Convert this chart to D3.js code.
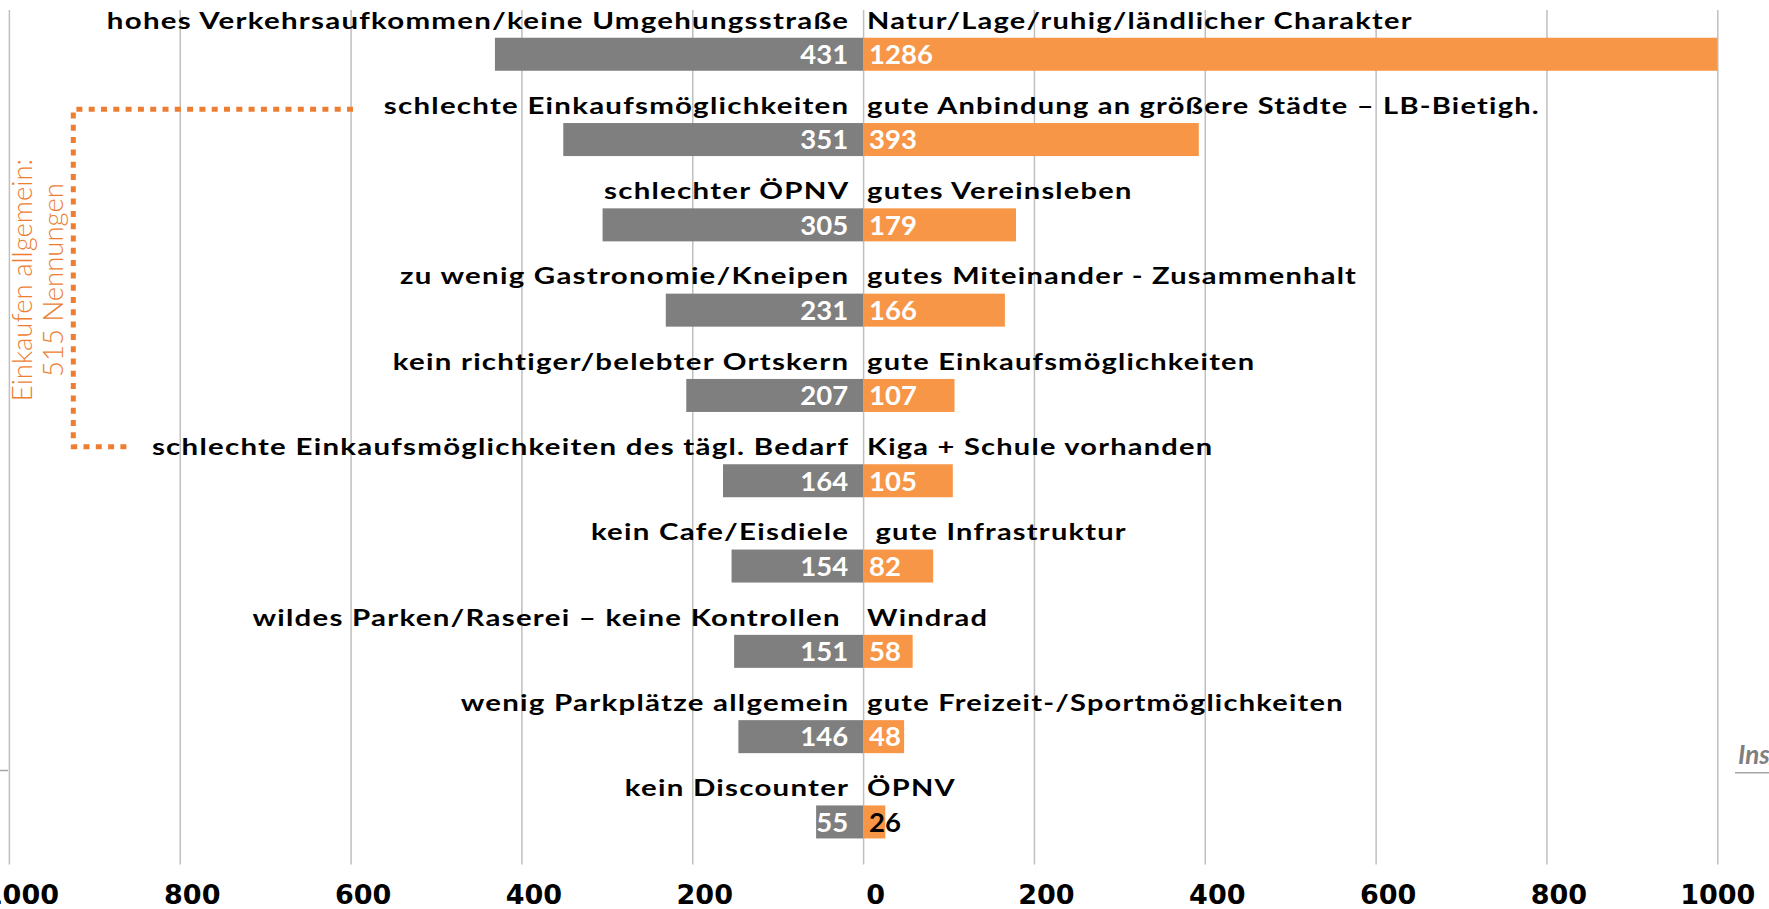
<!DOCTYPE html>
<html><head><meta charset="utf-8">
<script src="https://cdn.jsdelivr.net/npm/d3@7"></script>
<style>
body{margin:0;background:#fff;overflow:hidden}
svg{display:block}
text{white-space:pre}
</style></head><body>
<svg id="c" width="1769" height="909"></svg>
<script>
// ---- data ----
const leftLabels = [
  "hohes Verkehrsaufkommen/keine Umgehungsstraße",
  "schlechte Einkaufsmöglichkeiten",
  "schlechter ÖPNV",
  "zu wenig Gastronomie/Kneipen",
  "kein richtiger/belebter Ortskern",
  "schlechte Einkaufsmöglichkeiten des tägl. Bedarf",
  "kein Cafe/Eisdiele",
  "wildes Parken/Raserei – keine Kontrollen ",
  "wenig Parkplätze allgemein",
  "kein Discounter"
];
const rightLabels = [
  "Natur/Lage/ruhig/ländlicher Charakter",
  "gute Anbindung an größere Städte – LB-Bietigh.",
  "gutes Vereinsleben",
  "gutes Miteinander - Zusammenhalt",
  "gute Einkaufsmöglichkeiten",
  "Kiga + Schule vorhanden",
  " gute Infrastruktur",
  "Windrad",
  "gute Freizeit-/Sportmöglichkeiten",
  "ÖPNV"
];
const leftValues  = [431, 351, 305, 231, 207, 164, 154, 151, 146, 55];
const rightValues = [1286, 393, 179, 166, 107, 105, 82, 58, 48, 26];
const tickValues  = [-1000, -800, -600, -400, -200, 0, 200, 400, 600, 800, 1000];
const noteLines   = ["Einkaufen allgemein:", "515 Nennungen"];
const sideText    = "Insgesamt";

// ---- scales ----
const svg = d3.select("#c");
const rows = d3.range(leftLabels.length);
const x = d3.scaleLinear().domain([-1000, 1000]).range([8.9, 1717.3]).clamp(true);
const y = d3.scaleBand().domain(rows).range([11.6, 864.6]).paddingInner(0.613).paddingOuter(0.3065);

const GRAY = "#7f7f7f", ORANGE = "#f79646", NOTE = "#ed7d31";
const labelFont = "Lato, 'Open Sans', sans-serif";

// ---- gridlines ----
const grid = svg.append("g").attr("transform", "translate(0,864.6)")
  .call(d3.axisBottom(x).tickValues(tickValues).tickSize(-854.6).tickFormat(""));
grid.select(".domain").remove();
grid.selectAll(".tick line").attr("stroke", "#bfbfbf").attr("stroke-width", 1.5);

// ---- category labels (wide geometric look: slight spacing + horizontal stretch) ----
const LS = 1.0;
const catG = svg.append("g").attr("font-family", labelFont).attr("font-weight", 700)
  .attr("font-size", 23.5).attr("fill", "#000").attr("letter-spacing", LS);
const leftG = catG.selectAll("g.l").data(rows).join("g").attr("class", "l");
const leftT = leftG.append("text").attr("text-anchor", "end").attr("dx", LS).text(d => leftLabels[d]);
const rightG = catG.selectAll("g.r").data(rows).join("g").attr("class", "r");
rightG.append("text").attr("text-anchor", "start").text(d => rightLabels[d]);
const nat = leftT.nodes()[0].getComputedTextLength();
const sx = 743 / nat;
leftG.attr("transform", d => `translate(${x(0) - 15},${y(d) - 9.2}) scale(${sx},1)`);
rightG.attr("transform", d => `translate(${x(0) + 4},${y(d) - 9.2}) scale(${sx * 0.985},1)`);

// ---- bars ----
svg.append("g").selectAll("rect").data(rows).join("rect")
  .attr("x", d => x(-leftValues[d])).attr("y", d => y(d))
  .attr("width", d => x(0) - x(-leftValues[d])).attr("height", y.bandwidth())
  .attr("fill", GRAY);
svg.append("g").selectAll("rect").data(rows).join("rect")
  .attr("x", x(0)).attr("y", d => y(d))
  .attr("width", d => x(rightValues[d]) - x(0)).attr("height", y.bandwidth())
  .attr("fill", ORANGE);

// ---- value labels ----
const valG = svg.append("g").attr("font-family", labelFont).attr("font-weight", 700).attr("font-size", 27.5);
valG.selectAll("text.l").data(rows).join("text").attr("class", "l")
  .attr("x", x(0) - 15).attr("y", d => y(d) + y.bandwidth() / 2 + 9.8)
  .attr("text-anchor", "end").attr("fill", "#fff").text(d => leftValues[d]);
const rv = valG.selectAll("text.r").data(rows).join("text").attr("class", "r")
  .attr("x", x(0) + 6).attr("y", d => y(d) + y.bandwidth() / 2 + 9.8)
  .attr("text-anchor", "start").attr("fill", "#fff").text(d => rightValues[d]);
rv.each(function(d) {
  const w = this.getComputedTextLength();
  if (x(0) + 6 + w > x(rightValues[d]) + 2) d3.select(this).attr("fill", "#000");
});

// ---- bottom axis labels ----
const ax = svg.append("g").attr("transform", "translate(0,904)")
  .call(d3.axisBottom(x).tickValues(tickValues).tickSize(0).tickPadding(0)
    .tickFormat(d => Math.abs(d)));
ax.select(".domain").remove();
ax.selectAll("text").attr("font-family", "'DejaVu Sans', sans-serif").attr("font-weight", 700)
  .attr("font-size", 27).attr("fill", "#000").attr("dy", 0)
  .attr("dx", d => d === 1000 ? 0 : 12);

// ---- annotation bracket ----
const bracket = d3.line()([[353, 109.3], [73.3, 109.3], [73.3, 446.7], [127, 446.7]]);
svg.append("path").attr("d", bracket).attr("fill", "none").attr("stroke", NOTE)
  .attr("stroke-width", 5).attr("stroke-dasharray", "6 6.3");
const note = svg.append("g").attr("font-family", labelFont).attr("font-weight", 300)
  .attr("font-size", 27.5).attr("fill", NOTE).attr("text-anchor", "middle");
note.selectAll("text").data(noteLines).join("text")
  .attr("transform", (d, i) => `translate(${32 + i * 31},280) rotate(-90)`)
  .text(d => d);

// ---- clipped side element ----
svg.append("text").attr("x", 1738).attr("y", 764).attr("font-family", labelFont)
  .attr("font-style", "italic").attr("font-weight", 700).attr("font-size", 26)
  .attr("fill", "#7f7f7f").text(sideText);
svg.append("line").attr("x1", 1735).attr("x2", 1769).attr("y1", 772.7).attr("y2", 772.7)
  .attr("stroke", "#a6a6a6").attr("stroke-width", 1.5);
svg.append("line").attr("x1", 0).attr("x2", 8).attr("y1", 770.5).attr("y2", 770.5)
  .attr("stroke", "#a6a6a6").attr("stroke-width", 1.5);
</script>
</body></html>
